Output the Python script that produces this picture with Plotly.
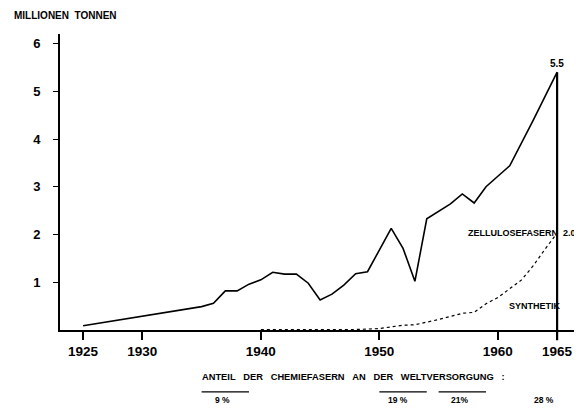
import plotly.graph_objects as go

# Chemiefasern, Weltproduktion in Millionen Tonnen
jahre = [1925, 1935, 1936, 1937, 1938, 1939, 1940, 1941, 1942, 1943, 1944, 1945,
         1946, 1947, 1948, 1949, 1951, 1952, 1953, 1954, 1956, 1957, 1958, 1959,
         1961, 1963, 1965]
gesamt = [0.09, 0.49, 0.56, 0.82, 0.82, 0.96, 1.05, 1.21, 1.17, 1.17, 0.98, 0.63,
          0.75, 0.94, 1.18, 1.22, 2.13, 1.71, 1.02, 2.33, 2.64, 2.85, 2.66, 3.0,
          3.44, 4.4, 5.4]

jahre_synth = [1940, 1948, 1950, 1952, 1953, 1955, 1957, 1958, 1959, 1960, 1962,
               1963, 1964, 1965]
synthetik = [0.01, 0.01, 0.03, 0.1, 0.11, 0.22, 0.35, 0.37, 0.55, 0.68, 1.05,
             1.35, 1.7, 2.03]

x_ticks = [1925, 1930, 1940, 1950, 1960, 1965]
y_ticks = [1, 2, 3, 4, 5, 6]

# Anteil der Chemiefasern an der Weltversorgung
anteil_text = ["9 %", "19 %", "21%", "28 %"]
anteil_von = [1935, 1950, 1955, None]
anteil_bis = [1939, 1954, 1959, None]
anteil_mitte = [1936.8, 1951.6, 1956.8, 1963.9]

Y_MAX = 6.2
FONT = "Liberation Sans"
SP = "\u00a0" * 3

fig = go.Figure()

fig.add_trace(go.Scatter(
    x=jahre, y=gesamt, mode="lines",
    line=dict(color="black", width=1.6),
    showlegend=False, hoverinfo="x+y"
))

fig.add_trace(go.Scatter(
    x=jahre_synth, y=synthetik, mode="lines",
    line=dict(color="black", width=1.2, dash="dot"),
    showlegend=False, hoverinfo="x+y"
))

# senkrechte Linie bei 1965
fig.add_shape(
    type="line", xref="x", yref="paper",
    x0=jahre[-1], x1=jahre[-1], y0=-0.035, y1=gesamt[-1] / Y_MAX,
    line=dict(color="black", width=2.2)
)

fig.add_annotation(
    x=jahre[-1], y=gesamt[-1], text="5.5", showarrow=False,
    yanchor="bottom", yshift=1,
    font=dict(family=FONT, size=10, color="black", weight="bold")
)
fig.add_annotation(
    x=1957.3, y=synthetik[-1], text="ZELLULOSEFASERN\u00a0\u00a02.0", showarrow=False,
    xanchor="left", yanchor="middle",
    font=dict(family=FONT, size=9, color="black", weight="bold")
)
fig.add_annotation(
    x=1960.8, y=0.5, text="SYNTHETIK", showarrow=False,
    xanchor="left", yanchor="middle",
    font=dict(family=FONT, size=9, color="black", weight="bold")
)

# Achsentitel oben links
fig.add_annotation(
    xref="paper", yref="paper", x=-0.092, y=1.063,
    text="MILLIONEN\u00a0\u00a0TONNEN", showarrow=False,
    xanchor="left", yanchor="middle",
    font=dict(family=FONT, size=10, color="black", weight="bold")
)

# Text unten
fig.add_annotation(
    xref="x", yref="paper", x=1934.9, y=-0.159,
    text=SP.join(["ANTEIL", "DER", "CHEMIEFASERN", "AN", "DER", "WELTVERSORGUNG", ":"]),
    showarrow=False, xanchor="left", yanchor="middle",
    font=dict(family=FONT, size=9.3, color="black", weight="bold")
)

for txt, von, bis, mitte in zip(anteil_text, anteil_von, anteil_bis, anteil_mitte):
    if von is not None:
        fig.add_shape(
            type="line", xref="x", yref="paper",
            x0=von, x1=bis, y0=-0.209, y1=-0.209,
            line=dict(color="black", width=1.2)
        )
    fig.add_annotation(
        xref="x", yref="paper", x=mitte, y=-0.238, text=txt,
        showarrow=False, xanchor="center", yanchor="middle",
        font=dict(family=FONT, size=8.5, color="black", weight="bold")
    )

# die Seite hat 8px Rand, daher etwas kleiner
fig.update_layout(
    width=574, height=402,
    plot_bgcolor="white", paper_bgcolor="white",
    margin=dict(l=52, r=0, t=26, b=80),
    showlegend=False,
    xaxis=dict(
        range=[1923.05, 1967.1],
        tickvals=x_ticks, ticktext=[str(t) for t in x_ticks],
        ticks="outside", ticklen=8, tickwidth=1.5, tickcolor="black",
        showline=True, linecolor="black", linewidth=1.6,
        showgrid=False, zeroline=False,
        tickfont=dict(family=FONT, size=13.5, color="black", weight="bold"),
    ),
    yaxis=dict(
        range=[0, Y_MAX],
        tickvals=y_ticks, ticktext=[str(t) for t in y_ticks],
        ticks="outside", ticklen=5, tickwidth=1.2, tickcolor="black",
        ticklabelstandoff=10,
        showline=True, linecolor="black", linewidth=1.8,
        showgrid=False, zeroline=False,
        tickfont=dict(family=FONT, size=13, color="black", weight="bold"),
    ),
)

fig.write_html("out.html")
